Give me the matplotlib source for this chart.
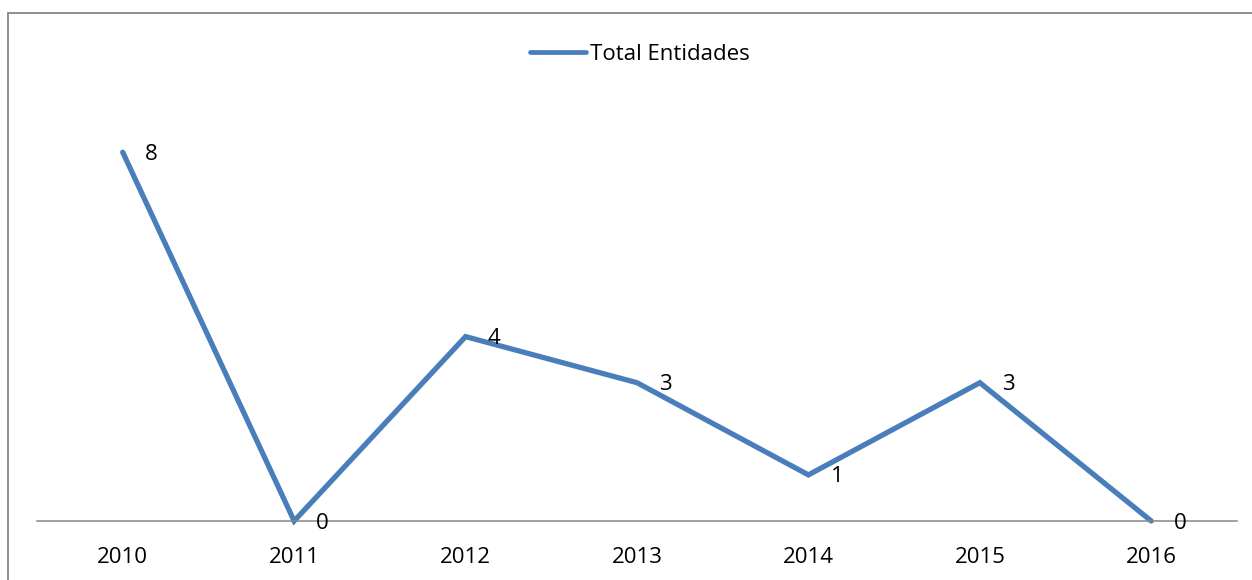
import matplotlib
matplotlib.use("Agg")
import matplotlib.pyplot as plt
from matplotlib.patches import Rectangle

# data
years = ["2010", "2011", "2012", "2013", "2014", "2015", "2016"]
total_entidades = [8, 0, 4, 3, 1, 3, 0]
series_name = "Total Entidades"

plt.rcParams['font.family'] = ['Open Sans', 'DejaVu Sans']

line_color = "#4A7EBB"
axis_color = "#868686"

W, H = 1252, 580
fig = plt.figure(figsize=(W / 100, H / 100), dpi=100)
fig.patch.set_facecolor("white")

# plot area in pixel terms
left, right, bottom, top = 37, 1237, 521, 60
ax = fig.add_axes([left / W, 1 - bottom / H, (right - left) / W, (bottom - top) / H])

x = list(range(len(years)))
ax.plot(x, total_entidades, color=line_color, lw=3.8,
        solid_capstyle="round", solid_joinstyle="miter", label=series_name,
        clip_on=False)

for xi, v in zip(x, total_entidades):
    ax.annotate(str(v), (xi, v), xytext=(16, -1.5), textcoords="offset points",
                ha="left", va="center", fontsize=16, color="black")

ax.set_xlim(-0.5, len(years) - 0.5)
ax.set_ylim(0, 10)
ax.set_xticks(x)
ax.set_xticklabels(years, fontsize=16)
ax.tick_params(axis="x", length=0, pad=19)
ax.set_yticks([])
for s in ["left", "right", "top"]:
    ax.spines[s].set_visible(False)
ax.spines["bottom"].set_color(axis_color)
ax.spines["bottom"].set_linewidth(1.1)

handles, labels = ax.get_legend_handles_labels()
leg = fig.legend(handles, labels, loc="center", bbox_to_anchor=(640 / W, 1 - 54 / H),
                 frameon=False, fontsize=16, handlelength=2.5, handletextpad=0.2)
for h in leg.get_lines():
    h.set_linewidth(3.4)

# outer chart border (partly cut off by the image edge)
fig.add_artist(Rectangle((8 / W, -0.1), 2, (H - 13) / H + 0.1, transform=fig.transFigure,
                         fill=False, ec=axis_color, lw=1.3))

fig.savefig("out.png", dpi=100)
